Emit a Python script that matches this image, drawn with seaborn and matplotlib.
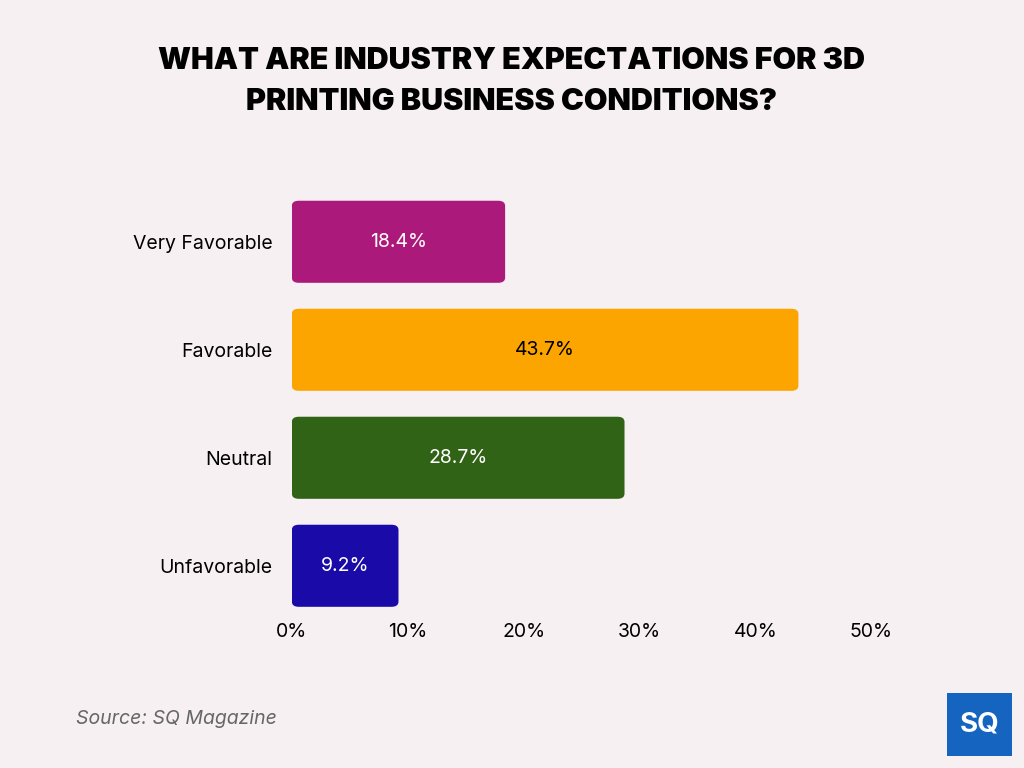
import matplotlib.pyplot as plt
import seaborn as sns
import pandas as pd
from matplotlib.patches import FancyBboxPatch

categories = ["Very Favorable", "Favorable", "Neutral", "Unfavorable"]
values = [18.4, 43.7, 28.7, 9.2]
colors = ["#ab1a7a", "#fca400", "#306316", "#1a0aa8"]
xticks = [0, 10, 20, 30, 40, 50]

df = pd.DataFrame({"category": categories, "value": values})

sns.set_theme(style="white")
plt.rcParams['font.family'] = ['Inter', 'DejaVu Sans']
plt.rcParams['text.color'] = 'black'
plt.rcParams['xtick.color'] = 'black'
plt.rcParams['ytick.color'] = 'black'

fig = plt.figure(figsize=(10.24, 7.68), dpi=100)
fig.patch.set_facecolor("#f7f0f3")
ax = fig.add_axes([0.285, 0.193, 0.566, 0.5625])
ax.set_facecolor("none")

sns.barplot(data=df, x="value", y="category", hue="category", palette=colors,
            width=0.76, saturation=1, legend=False, ax=ax)

# swap bars for rounded ones
for bar in list(ax.patches):
    x, y = bar.get_x(), bar.get_y()
    w, h = bar.get_width(), bar.get_height()
    fc = bar.get_facecolor()
    bar.set_visible(False)
    ax.add_patch(FancyBboxPatch((x, y), w, h, boxstyle="round,pad=0,rounding_size=0.6",
                                mutation_aspect=0.08, fc=fc, ec="none"))

for i, v in enumerate(values):
    txt_color = "black" if i == 1 else "white"
    ax.text(v / 2, i, f"{v}%", ha="center", va="center", color=txt_color, fontsize=14)

ax.set_xlim(0, 50)
ax.set_ylim(3.5, -0.5)
ax.set_xticks(xticks)
ax.set_xticklabels([f"{t}%" for t in xticks], fontsize=14)
ax.tick_params(axis="y", labelsize=14, pad=14, length=0)
ax.tick_params(axis="x", pad=2, length=0)
ax.set_xlabel("")
ax.set_ylabel("")
for s in ax.spines.values():
    s.set_visible(False)

fig.text(0.5, 0.894, "WHAT ARE INDUSTRY EXPECTATIONS FOR 3D\nPRINTING BUSINESS CONDITIONS?",
         ha="center", va="center", fontsize=22, fontweight="black", linespacing=1.6)
fig.text(0.074, 0.057, "Source: SQ Magazine", fontsize=14, style="italic", color="#666666")

lax = fig.add_axes([0.925, 0.015, 0.063, 0.083])
lax.set_facecolor("#1565c0")
lax.set_xticks([]); lax.set_yticks([])
for s in lax.spines.values():
    s.set_visible(False)
lax.text(0.5, 0.5, "SQ", color="white", fontsize=20, fontweight="bold",
         ha="center", va="center", transform=lax.transAxes)

fig.savefig("out.png", dpi=100)
